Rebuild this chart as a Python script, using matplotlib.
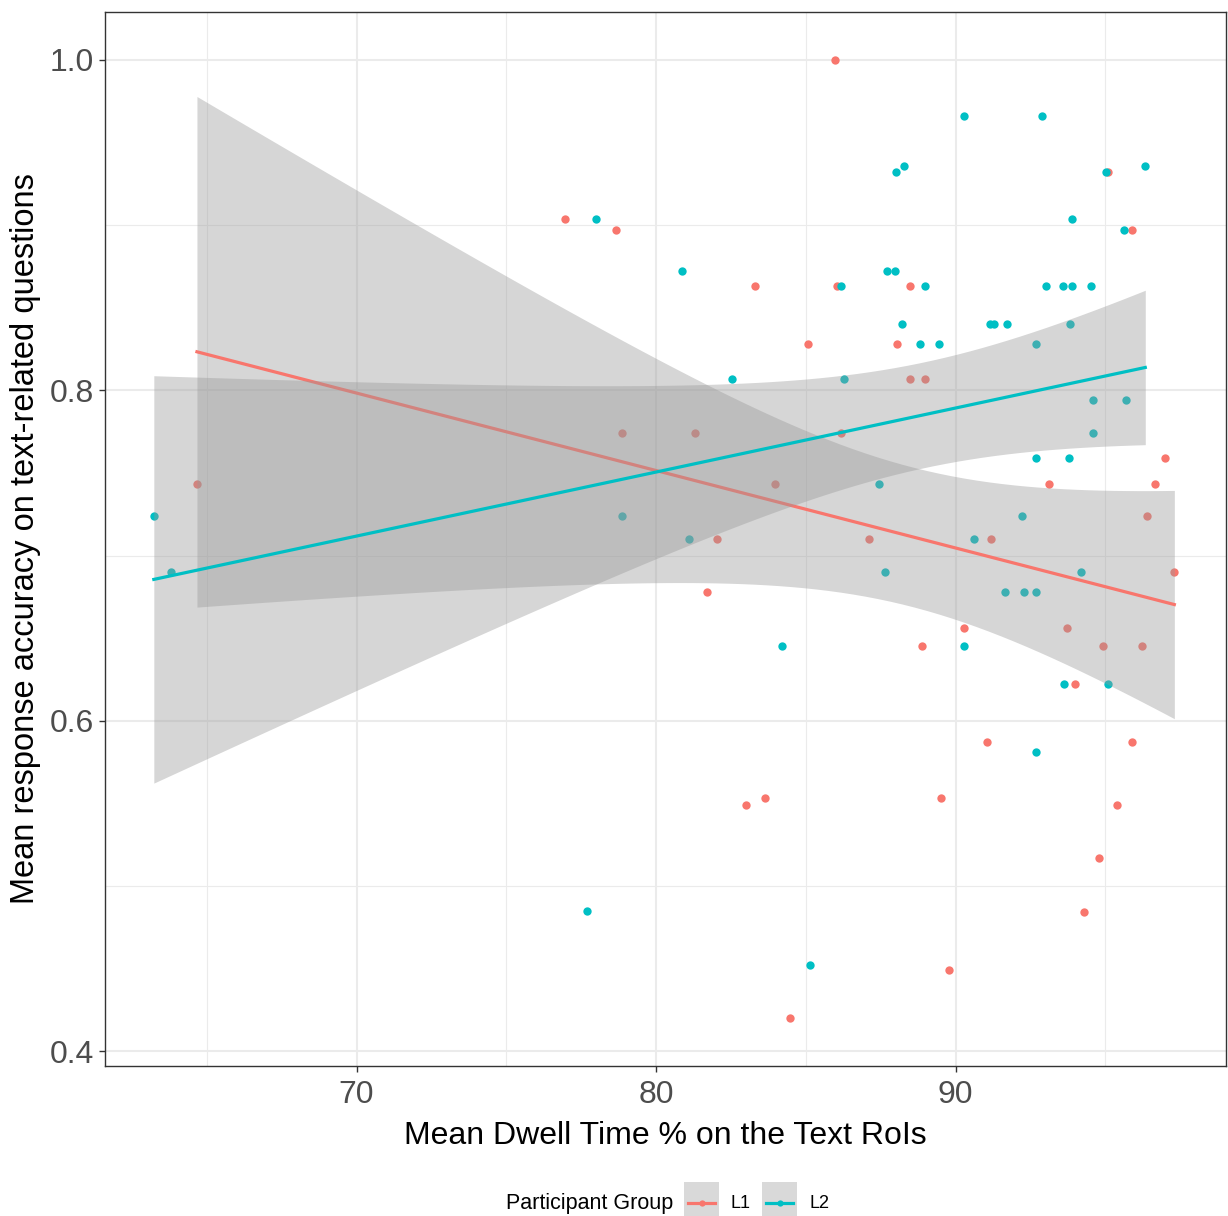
import numpy as np
import matplotlib
matplotlib.use("Agg")
import matplotlib.pyplot as plt
from matplotlib.patches import Rectangle
from matplotlib.lines import Line2D

plt.rcParams['font.family'] = ['Liberation Sans', 'DejaVu Sans']

# L1 group: dwell time % and mean accuracy
l1_x = [76.97, 78.67, 85.97, 83.30, 86.03, 85.07, 88.03, 88.47, 88.47, 88.97,
        95.10, 95.87, 64.67, 78.87, 81.30, 86.17, 83.97, 82.03, 81.70, 87.10,
        93.13, 91.17, 97.00, 96.67, 96.40, 97.30, 90.27, 93.70, 88.87, 94.93,
        96.23, 93.97, 83.00, 83.63, 84.47, 91.03, 89.50, 89.77, 95.90, 95.37,
        94.80, 94.27]
l1_y = [0.904, 0.897, 1.000, 0.863, 0.863, 0.828, 0.828, 0.863, 0.807, 0.807,
        0.932, 0.897, 0.743, 0.774, 0.774, 0.774, 0.743, 0.710, 0.678, 0.710,
        0.743, 0.710, 0.759, 0.743, 0.724, 0.690, 0.656, 0.656, 0.645, 0.645,
        0.645, 0.622, 0.549, 0.553, 0.420, 0.587, 0.553, 0.449, 0.587, 0.549,
        0.517, 0.484]

# L2 group
l2_x = [63.23, 63.80, 78.00, 80.87, 78.87, 81.10, 82.53, 84.20, 77.70, 85.13,
        86.17, 86.27, 87.43, 87.63, 87.70, 87.97, 88.00, 88.27, 88.20, 88.80,
        88.97, 89.43, 90.27, 92.87, 91.13, 91.27, 91.70, 92.67, 93.03, 93.57,
        93.87, 94.53, 93.83, 93.90, 95.03, 96.33, 95.63, 94.60, 95.70, 94.60,
        92.67, 93.77, 92.20, 90.60, 94.20, 91.63, 92.27, 92.67, 90.27, 93.63,
        95.07, 92.67]
l2_y = [0.724, 0.690, 0.904, 0.872, 0.724, 0.710, 0.807, 0.645, 0.485, 0.452,
        0.863, 0.807, 0.743, 0.690, 0.872, 0.872, 0.932, 0.936, 0.840, 0.828,
        0.863, 0.828, 0.966, 0.966, 0.840, 0.840, 0.840, 0.828, 0.863, 0.863,
        0.863, 0.863, 0.840, 0.904, 0.932, 0.936, 0.897, 0.794, 0.794, 0.774,
        0.759, 0.759, 0.724, 0.710, 0.690, 0.678, 0.678, 0.678, 0.645, 0.622,
        0.622, 0.581]

groups = ["L1", "L2"]
colors = ["#F8766D", "#00BFC4"]


def lm_band(x, y, tval):
    # linear fit with 95% confidence band, like geom_smooth(method = "lm")
    x = np.asarray(x)
    y = np.asarray(y)
    n = len(x)
    b, a = np.polyfit(x, y, 1)
    resid = y - (a + b * x)
    s = np.sqrt(np.sum(resid ** 2) / (n - 2))
    sxx = np.sum((x - x.mean()) ** 2)
    xs = np.linspace(x.min(), x.max(), 80)
    fit = a + b * xs
    se = s * np.sqrt(1.0 / n + (xs - x.mean()) ** 2 / sxx)
    return xs, fit, fit - tval * se, fit + tval * se


fig = plt.figure(figsize=(12.28, 12.16), dpi=100)
ax = fig.add_axes([0.0855, 0.1234, 0.913, 0.8667])

# points first, smooth layers on top of them
ax.scatter(l1_x, l1_y, s=36, color=colors[0], linewidths=0, zorder=2)
ax.scatter(l2_x, l2_y, s=36, color=colors[1], linewidths=0, zorder=2)

z = 3
for gx, gy, c, t in [(l1_x, l1_y, colors[0], 2.021), (l2_x, l2_y, colors[1], 2.009)]:
    xs, fit, lo, hi = lm_band(gx, gy, t)
    ax.fill_between(xs, lo, hi, color="#999999", alpha=0.4, linewidth=0, zorder=z)
    ax.plot(xs, fit, color=c, lw=2.3, zorder=z + 1)
    z += 2

ax.set_xlim(61.6, 99.03)
ax.set_ylim(0.391, 1.029)
ax.set_xticks([70, 80, 90])
ax.set_xticks([65, 75, 85, 95], minor=True)
ax.set_yticks([0.4, 0.6, 0.8, 1.0])
ax.set_yticks([0.5, 0.7, 0.9], minor=True)
ax.set_yticklabels(["0.4", "0.6", "0.8", "1.0"])
ax.grid(which="major", color="#EBEBEB", lw=1.5, zorder=0)
ax.grid(which="minor", color="#EBEBEB", lw=0.8, zorder=0)
ax.set_axisbelow(True)
ax.tick_params(which="major", length=4, width=1, color="#333333",
               labelsize=23, labelcolor="#4D4D4D", pad=4)
ax.tick_params(axis="x", pad=6)
ax.tick_params(which="minor", length=0)
for sp in ax.spines.values():
    sp.set_color("#333333")
    sp.set_linewidth(1)

ax.set_xlabel("Mean Dwell Time % on the Text RoIs", fontsize=23, labelpad=8)
ax.set_ylabel("Mean response accuracy on text-related questions", fontsize=23.5, labelpad=6)

# legend at the bottom, ggplot style: title on the left, grey key boxes
fig.text(673 / 1228, 1 - 1203 / 1216, "Participant Group", fontsize=15.5,
         ha="right", va="center")
for i, (g, c) in enumerate(zip(groups, colors)):
    x0 = (684 + i * 78) / 1228
    w = 35 / 1228
    fig.add_artist(Rectangle((x0, 0), w, 34 / 1216, transform=fig.transFigure,
                             facecolor="#D9D9D9", edgecolor="none"))
    yc = 1 - 1203 / 1216
    fig.add_artist(Line2D([x0 + 0.003, x0 + w - 0.003], [yc, yc],
                          transform=fig.transFigure, color=c, lw=2.3))
    fig.add_artist(Line2D([x0 + w / 2], [yc], transform=fig.transFigure,
                          color=c, marker="o", markersize=4.5, markeredgewidth=0))
    fig.text(x0 + w + 12 / 1228, yc, g, fontsize=13, ha="left", va="center")

fig.savefig("out.png", dpi=100)
